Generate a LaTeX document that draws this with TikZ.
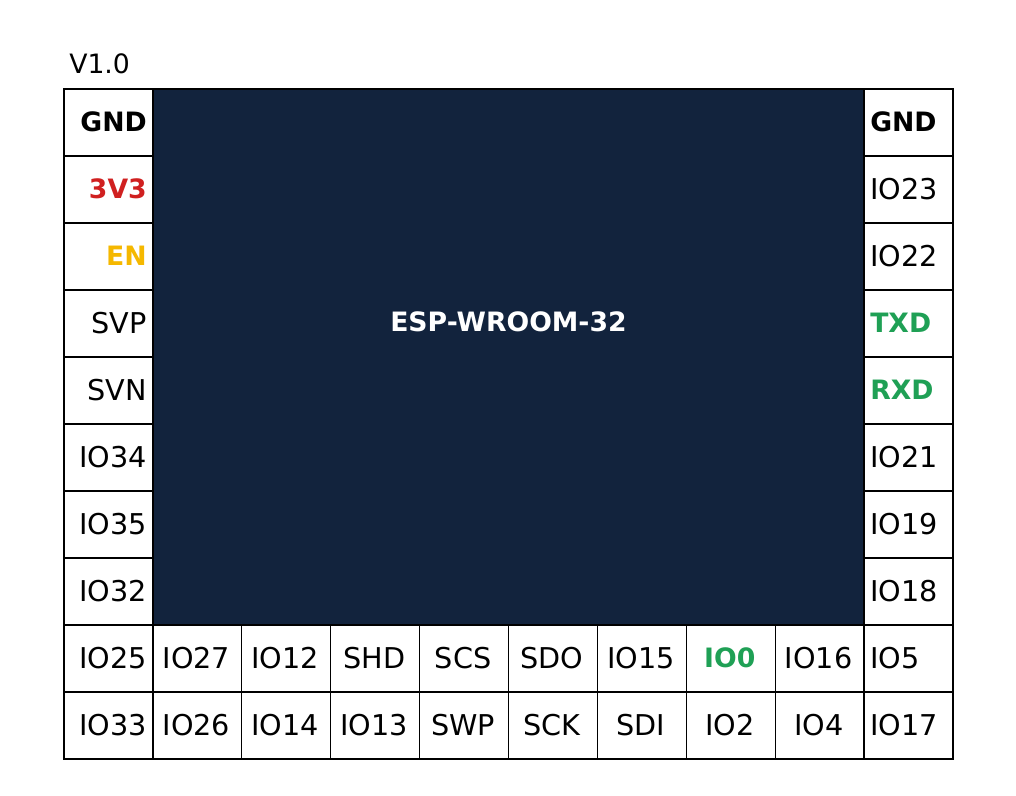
\documentclass[tikz,border=0pt]{standalone}
\usepackage{fontspec}
\setmainfont{DejaVu Sans}
\definecolor{chipblue}{HTML}{12233D}
\definecolor{pinred}{HTML}{D02020}
\definecolor{pinyellow}{HTML}{F5B800}
\definecolor{pingreen}{HTML}{1FA055}
\begin{document}
\begin{tikzpicture}[x=0.75pt,y=-0.75pt,
  grid line/.style={line width=1pt, black},
  pin/.style={inner sep=0pt, text depth=0pt, font=\fontsize{21.5}{25}\selectfont},
  lpin/.style={pin, anchor=east},
  rpin/.style={pin, anchor=west},
  cpin/.style={pin, anchor=center},
  strong/.style={font=\fontsize{20}{24}\selectfont\bfseries}
]
\useasboundingbox (0,0) rectangle (1016,795);
\fill[white] (0,0) rectangle (1016,795);
% grid
\foreach \k in {1,...,9} \draw[grid line] (64,89+67*\k) -- (953,89+67*\k);
\foreach \k in {1,...,9} \draw[grid line] (64+88.9*\k,89) -- (64+88.9*\k,759);
\draw[grid line] (64,89) rectangle (953,759);
% chip
\node[fill=chipblue, draw=black, line width=1pt, minimum width=711.2*0.75pt, minimum height=536*0.75pt, inner sep=0pt] (chip) at (508.45,357) {};
\node[pin, strong, text=white] (chiplabel) at (508.45,322) {ESP-WROOM-32};
% version
\node[pin, anchor=west, font=\fontsize{20}{24}\selectfont] (ver) at (69,64) {V1.0};
% left column
\node[lpin, strong] (L1) at (147,121.5) {GND};
\node[lpin, strong, text=pinred] (L2) at (147,188.5) {3V3};
\node[lpin, strong, text=pinyellow] (L3) at (147,255.5) {EN};
\node[lpin] (L4) at (147,322.5) {SVP};
\node[lpin] (L5) at (147,389.5) {SVN};
\node[lpin] (L6) at (147,456.5) {IO34};
\node[lpin] (L7) at (147,523.5) {IO35};
\node[lpin] (L8) at (147,590.5) {IO32};
% right column
\node[rpin, strong] (R1) at (870,121.5) {GND};
\node[rpin] (R2) at (870,188.5) {IO23};
\node[rpin] (R3) at (870,255.5) {IO22};
\node[rpin, strong, text=pingreen] (R4) at (870,322.5) {TXD};
\node[rpin, strong, text=pingreen] (R5) at (870,389.5) {RXD};
\node[rpin] (R6) at (870,456.5) {IO21};
\node[rpin] (R7) at (870,523.5) {IO19};
\node[rpin] (R8) at (870,590.5) {IO18};
% row 9
\node[lpin] (B1) at (147,657.5) {IO25};
\node[cpin] (B2) at (196.35,657.5) {IO27};
\node[cpin] (B3) at (285.25,657.5) {IO12};
\node[cpin] (B4) at (374.15,657.5) {SHD};
\node[cpin] (B5) at (463.05,657.5) {SCS};
\node[cpin] (B6) at (551.95,657.5) {SDO};
\node[cpin] (B7) at (640.85,657.5) {IO15};
\node[cpin, strong, text=pingreen] (B8) at (729.75,657.5) {IO0};
\node[cpin] (B9) at (818.65,657.5) {IO16};
\node[rpin] (B10) at (870,657.5) {IO5};
% row 10
\node[lpin] (C1) at (147,724.5) {IO33};
\node[cpin] (C2) at (196.35,724.5) {IO26};
\node[cpin] (C3) at (285.25,724.5) {IO14};
\node[cpin] (C4) at (374.15,724.5) {IO13};
\node[cpin] (C5) at (463.05,724.5) {SWP};
\node[cpin] (C6) at (551.95,724.5) {SCK};
\node[cpin] (C7) at (640.85,724.5) {SDI};
\node[cpin] (C8) at (729.75,724.5) {IO2};
\node[cpin] (C9) at (818.65,724.5) {IO4};
\node[rpin] (C10) at (870,724.5) {IO17};
\end{tikzpicture}
\end{document}
